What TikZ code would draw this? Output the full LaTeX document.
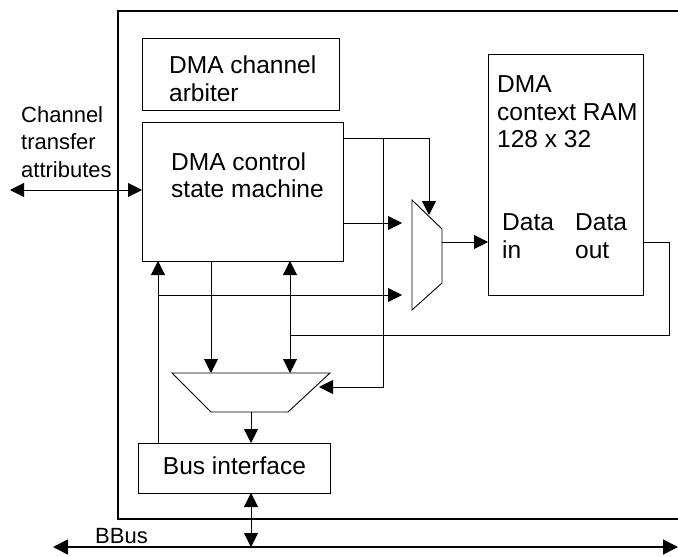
\documentclass[tikz,border=0pt]{standalone}
\usepackage{fontspec}
\setmainfont{Liberation Sans}
\usetikzlibrary{arrows.meta}
\begin{document}
\begin{tikzpicture}[x=1pt,y=-1pt,
  ln/.style={line width=0.9pt},
  arr/.style={ln,-{Triangle[length=14pt,width=14pt]}},
  darr/.style={ln,{Triangle[length=14pt,width=14pt]}-{Triangle[length=14pt,width=14pt]}},
  box/.style={draw,ln,rectangle,inner sep=0pt,anchor=north west},
  txt/.style={anchor=base west,inner sep=0pt,font=\fontsize{24.5}{28}\selectfont},
  stxt/.style={anchor=base west,inner sep=0pt,font=\fontsize{22}{26}\selectfont}]
\useasboundingbox (0,0) rectangle (678,557);
\fill[white] (0,0) rectangle (678,557);
% outer box (right side beyond picture)
\draw[line width=1.2pt] (690,11) -- (118,11) -- (118,519) -- (690,519);
% boxes
\node[box,minimum width=197pt,minimum height=72pt] (arb) at (142,38) {};
\node[box,minimum width=201pt,minimum height=139pt] (sm) at (142,122) {};
\node[box,minimum width=155pt,minimum height=241pt] (ram) at (488,54) {};
\node[box,minimum width=192pt,minimum height=50pt] (bif) at (138,443) {};
% muxes
\draw[ln] (412,200) coordinate (m1tl) -- (442,229) coordinate (m1tr) -- (442,283) coordinate (m1br) -- (412,310) coordinate (m1bl) -- cycle;
\draw[ln] (172,373) coordinate (m2tl) -- (330,373) coordinate (m2tr) -- (288,412) coordinate (m2br) -- (211,412) coordinate (m2bl) -- cycle;
% texts
\node[txt] (t1) at (169,73) {DMA channel};
\node[txt] (t2) at (169,101) {arbiter};
\node[txt] (t3) at (171,170) {DMA control};
\node[txt] (t4) at (171,197) {state machine};
\node[txt] (t5) at (497,92) {DMA};
\node[txt] (t6) at (497,120) {context RAM};
\node[txt] (t7) at (497,147) {128 x 32};
\node[txt] (t8) at (502,230) {Data};
\node[txt] (t9) at (502,258) {in};
\node[txt] (t10) at (575,230) {Data};
\node[txt] (t11) at (575,258) {out};
\node[txt] (t12) at (bif.center) [anchor=center] {\vphantom{Bg}Bus interface};
\node[stxt] (c1) at (21,122) {Channel};
\node[stxt] (c2) at (21,149) {transfer};
\node[stxt] (c3) at (21,177) {attributes};
\node[stxt] (bb) at (95,543) {BBus};
% ports / coordinates
\coordinate (ext) at (10,190);
\coordinate (smA) at (343,138);
\coordinate (brA) at (383,138);
\coordinate (m1top) at (429,215);
\coordinate (m2in) at (319,387);
\coordinate (smB) at (343,223);
\coordinate (m1inA) at (402,223);
\coordinate (bifL) at (158,443);
\coordinate (smL) at (158,261);
\coordinate (brC) at (158,295);
\coordinate (m1inB) at (402,295);
\coordinate (smM) at (211,261);
\coordinate (m2A) at (211,373);
\coordinate (smR) at (290,261);
\coordinate (m2B) at (290,373);
\coordinate (ramO) at (643,242);
\coordinate (loopA) at (669,242);
\coordinate (loopB) at (669,335);
\coordinate (loopC) at (290,335);
\coordinate (m1out) at (442,242);
\coordinate (ramI) at (488,242);
\coordinate (m2out) at (251,412);
\coordinate (bifT) at (251,443);
\coordinate (bifB) at (251,493);
\coordinate (busJ) at (251,547);
\coordinate (busL) at (53,547);
\coordinate (busR) at (678,547);
% connectors
\draw[darr] (ext) -- (sm.west |- ext);
\draw[arr] (smA) -| (m1top);
\draw[arr] (brA) |- (m2in);
\draw[arr] (smB) -- (m1inA);
\draw[arr] (bifL) -- (smL);
\draw[arr] (brC) -- (m1inB);
\draw[arr] (smM) -- (m2A);
\draw[darr] (smR) -- (m2B);
\draw[ln] (ramO) -- (loopA) -- (loopB) -- (loopC);
\draw[arr] (m1out) -- (ramI);
\draw[arr] (m2out) -- (bifT);
\draw[darr] (bifB) -- (busJ);
\draw[line width=1.6pt,{Triangle[length=15pt,width=15pt]}-{Triangle[length=15pt,width=15pt]}] (busL) -- (busR);
\end{tikzpicture}
\end{document}
